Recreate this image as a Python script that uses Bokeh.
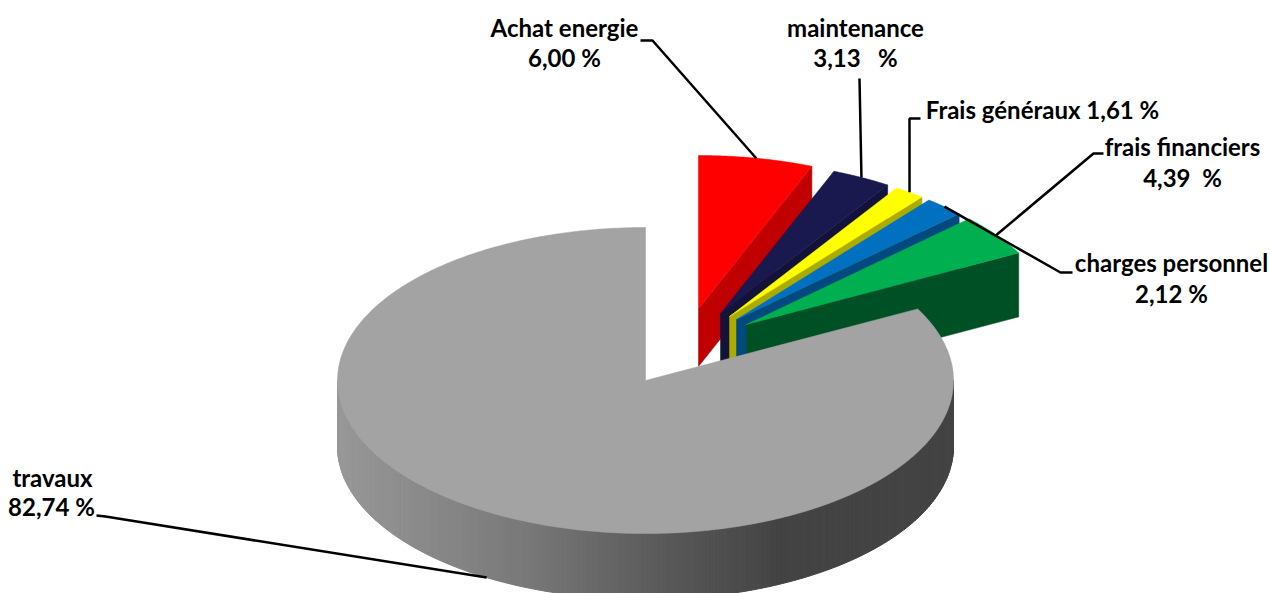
import numpy as np
from bokeh.core.properties import value
from bokeh.embed import file_html
from bokeh.models import Range1d
from bokeh.plotting import figure
from bokeh.resources import INLINE

# ---- data, in drawing order, clockwise from 12 o'clock ----
categories = ["Achat energie", "maintenance", "Frais généraux", "charges personnel", "frais financiers", "travaux"]
shares = [6.00, 3.13, 1.61, 2.12, 4.39, 82.74]
share_labels = ["6,00 %", "3,13\u00a0\u00a0\u00a0%", "1,61 %", "2,12 %", "4,39\u00a0\u00a0%", "82,74 %"]

# ---- styles and layout ----
top_colors = ["#ff0000", "#191950", "#ffff00", "#0070c0", "#00b050", "#a3a3a3"]
wall_colors = ["#c00000", "#12123a", "#acac00", "#004a80", "#005025", None]
WIDTH, HEIGHT = 1270, 593
RX, RY = 308, 153
CENTER = (645, 380)
# where each exploded wedge's tip sits on the picture
apexes = [(698, 308), (720, 313), (729, 316), (736, 319), (746, 324), CENTER]
depths = [58, 60, 60, 60, 64, 66]
FONT = value("Lato")
FONT_SIZE = "24px"

fractions = np.array(shares) / sum(shares)
edges = np.concatenate([[0.0], np.cumsum(fractions)]) * 2 * np.pi


def rim(apex, theta, drop=0.0):
    return apex[0] + RX * np.sin(theta), apex[1] - RY * np.cos(theta) + drop


p = figure(width=WIDTH, height=HEIGHT, x_range=Range1d(0, WIDTH), y_range=Range1d(HEIGHT, 0),
           output_backend="svg", toolbar_location=None, min_border=0,
           outline_line_color=None, background_fill_color="white", border_fill_color="white")
p.axis.visible = False
p.grid.visible = False

# lower outer wall of the big slice: a left-to-right grey shading
shade_x = [337, 530, 650, 780, 953]
shade_v = [0x98, 0x78, 0x5c, 0x43, 0x43]
thetas = np.linspace(np.pi / 2, 3 * np.pi / 2, 181)
wx, wy, wc = [], [], []
for t0, t1 in zip(thetas[:-1], thetas[1:]):
    x0, y0 = rim(CENTER, t0)
    x1, y1 = rim(CENTER, t1)
    wx.append([x0, x1, x1, x0])
    wy.append([y0, y1, y1 + depths[5], y0 + depths[5]])
    g = int(np.interp((x0 + x1) / 2, shade_x, shade_v))
    wc.append(f"#{g:02x}{g:02x}{g:02x}")

# exploded slices: the cut face first, then the top
for i in range(5):
    ax, ay = apexes[i]
    ex, ey = rim(apexes[i], edges[i + 1])
    p.patch([ax, ex, ex, ax], [ay, ey, ey + depths[i], ay + depths[i]],
            fill_color=wall_colors[i], line_color=wall_colors[i], line_width=0.5)
    t = np.linspace(edges[i], edges[i + 1], 40)
    rx_, ry_ = rim(apexes[i], t)
    p.patch(np.r_[ax, rx_], np.r_[ay, ry_], fill_color=top_colors[i], line_color=top_colors[i], line_width=0.5)

# big slice on top of the cut faces
p.patches(wx, wy, fill_color=wc, line_color=wc, line_width=1)
t = np.linspace(edges[5], edges[6], 400)
rx_, ry_ = rim(CENTER, t)
p.patch(np.r_[CENTER[0], rx_], np.r_[CENTER[1], ry_], fill_color=top_colors[5], line_color=top_colors[5], line_width=0.5)

# leader lines end on each slice's middle angle
mids = (edges[:-1] + edges[1:]) / 2
anchors = [rim(apexes[i], mids[i]) for i in range(5)] + [rim(CENTER, mids[5], depths[5])]
leader_bends = [
    [(640, 40), (652, 40)],
    [(859, 78)],
    [(920, 118), (909, 118)],
    [(1072, 272), (1060, 272)],
    [(1103, 153), (1093, 153)],
    [(96, 515), (105, 516)],
]
for bends, anchor in zip(leader_bends, anchors):
    pts = bends + [anchor]
    p.line([q[0] for q in pts], [q[1] for q in pts], line_color="black", line_width=2.5)

# labels
name_pos = [(564, 27), (855, 27), None, (1171, 262), (1182, 146), (52, 477)]
val_pos = [(564, 57), (855, 57), None, (1171, 293), (1182, 177), (51, 506)]
tx, ty, tt = [], [], []
for i in range(6):
    if name_pos[i] is None:
        tx.append(1042); ty.append(109)
        tt.append(f"{categories[i]} {share_labels[i]}")
    else:
        tx += [name_pos[i][0], val_pos[i][0]]
        ty += [name_pos[i][1], val_pos[i][1]]
        tt += [categories[i], share_labels[i]]
p.text(tx, ty, text=tt, text_font=FONT, text_font_style="bold", text_font_size=FONT_SIZE,
       text_color="black", text_align="center", text_baseline="middle")

open("out.html", "w").write(file_html(p, INLINE))
